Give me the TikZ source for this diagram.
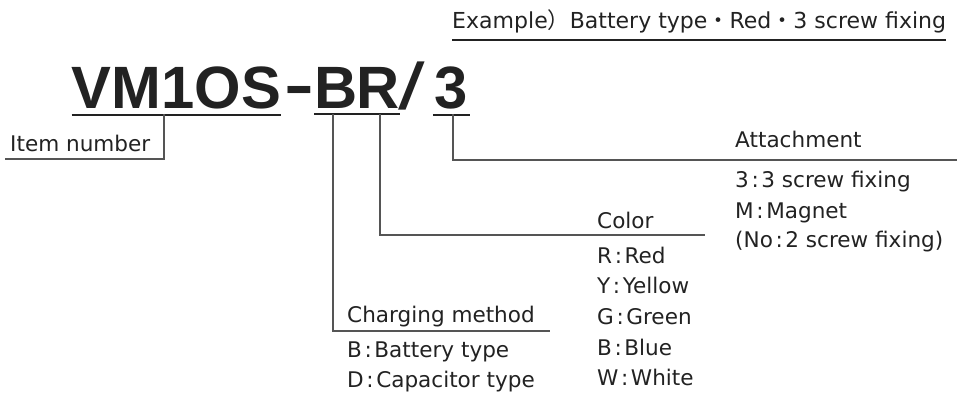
\documentclass[tikz,border=0pt]{standalone}
\usepackage{fontspec}
\setmainfont{DejaVu Sans}
\newfontfamily\heavyfont{Liberation Sans}
\newfontfamily\jpfont{Noto Sans CJK JP}
\usepackage{tikz}
\usetikzlibrary{positioning,calc}
\definecolor{ink}{HTML}{222222}
\definecolor{leadgray}{HTML}{555555}
\newcommand{\cln}{\kern0.12em:\kern0.12em}
\tikzset{
  partno/.style={
    font=\heavyfont\bfseries\fontsize{51}{58}\selectfont,
    text=ink, inner sep=0pt, anchor=base
  },
  lbl/.style={
    font=\fontsize{18.4}{22}\selectfont,
    text=ink, inner sep=0pt, anchor=base west
  },
  leader/.style={draw=leadgray, line width=0.9pt},
  partline/.style={draw=ink, line width=1.7pt},
  exline/.style={draw=ink, line width=1.2pt},
}

\begin{document}
\begin{tikzpicture}[x=0.03cm, y=-0.03cm]
  \useasboundingbox (0,0) rectangle (967,394);

  % example line on top
  \node[lbl, font=\fontsize{18.8}{22}\selectfont] (example) at (452,29)
    {Example{\jpfont ）}Battery type{\jpfont ・}Red{\jpfont ・}3 screw fixing};
  \draw[exline] ([yshift=-0.33cm]example.base west) -- ([yshift=-0.33cm]example.base east);

  % part number
  \node[partno, minimum width=6.09cm] (model) at (176.5,108.5) {VM1OS};
  \node[partno] (dash) at (299.5,105.5) {\scalebox{1.5}[1]{-}};
  \node[partno, minimum width=0.99cm] (charge) at (336,108.5) {B};
  \node[partno, minimum width=1.02cm] (color) at (378.5,108.5) {R};
  \node[partno, font=\heavyfont\fontsize{51}{58}\selectfont] (slash) at (411.5,110)
    {\scalebox{1.6}[1.1]{/}};
  \node[partno, minimum width=1.11cm] (attach) at (451.5,108.5) {3};

  \draw[partline] ([yshift=-0.165cm]model.south west) -- ([yshift=-0.165cm]model.south east);
  \draw[partline] ([yshift=-0.165cm]charge.south west) -- ([yshift=-0.165cm]charge.south east);
  \draw[partline] ([yshift=-0.165cm]color.south west) -- ([yshift=-0.165cm]color.south east);
  \draw[partline] ([yshift=-0.165cm]attach.south west) -- ([yshift=-0.165cm]attach.south east);

  % labels
  \node[lbl] (itemlbl) at (10,152) {Item number};
  \node[lbl] (attlbl) at (735,148) {Attachment};
  \node[lbl] (att3) at (735,188) {3\cln 3 screw fixing};
  \node[lbl] (attm) at (735,218) {M\cln Magnet};
  \node[lbl] (attno) at (735,247) {(No\cln 2 screw fixing)};

  \node[lbl] (collbl) at (597,228) {Color};
  \node[lbl] (colr) at (597,263) {R\cln Red};
  \node[lbl] (coly) at (597,293) {Y\cln Yellow};
  \node[lbl] (colg) at (597,324) {G\cln Green};
  \node[lbl] (colb) at (597,355) {B\cln Blue};
  \node[lbl] (colw) at (597,385) {W\cln White};

  \node[lbl] (chglbl) at (347,322) {Charging method};
  \node[lbl] (chgb) at (347,357) {B\cln Battery type};
  \node[lbl] (chgd) at (347,387) {D\cln Capacitor type};

  % leaders
  \coordinate (itemtap) at (164,114);
  \coordinate (itemend) at (5,159);
  \coordinate (chgtap) at (333,114);
  \coordinate (chgend) at (550,331);
  \coordinate (coltap) at (380,114);
  \coordinate (colend) at (705,235);
  \coordinate (atttap) at (453,114);
  \coordinate (attend) at (957,160);

  \draw[leader] (itemtap) |- (itemend);
  \draw[leader] (chgtap) |- (chgend);
  \draw[leader] (coltap) |- (colend);
  \draw[leader] (atttap) |- (attend);
\end{tikzpicture}
\end{document}
